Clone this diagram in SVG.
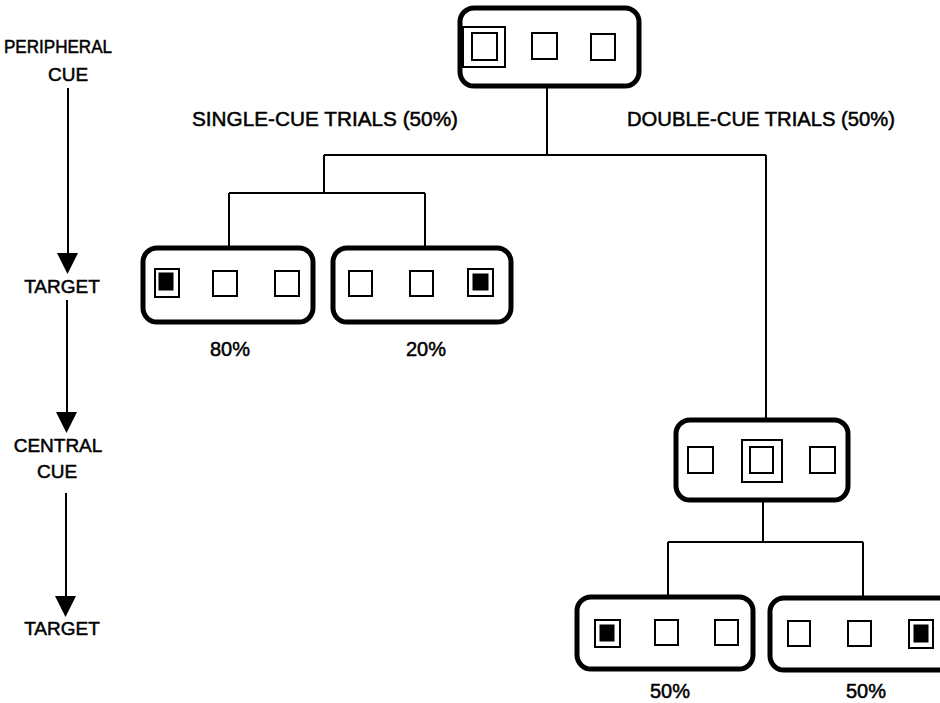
<svg xmlns="http://www.w3.org/2000/svg" width="940" height="703" viewBox="0 0 940 703">
<defs>
<style>
.box{fill:none;stroke:#000;stroke-width:5}
.sq{fill:#fff;stroke:#000;stroke-width:2}
.fill{fill:#000;stroke:#000;stroke-width:1}
.ln{fill:none;stroke:#000;stroke-width:2}
.t{font-family:"Liberation Sans",Arial,sans-serif;font-size:19px;fill:#000;stroke:#000;stroke-width:0.5}
.l{font-family:"Liberation Sans",Arial,sans-serif;font-size:20px;fill:#000;stroke:#000;stroke-width:0.5}
</style>
</defs>
<rect width="940" height="703" fill="#fff"/>

<g id="timeline">
<text class="t" x="58" y="53" text-anchor="middle" textLength="108" lengthAdjust="spacingAndGlyphs">PERIPHERAL</text>
<text class="t" x="68" y="81" text-anchor="middle">CUE</text>
<text class="t" x="62" y="293" text-anchor="middle">TARGET</text>
<text class="t" x="58" y="452" text-anchor="middle">CENTRAL</text>
<text class="t" x="57" y="478" text-anchor="middle">CUE</text>
<text class="t" x="62" y="635" text-anchor="middle">TARGET</text>
<line class="ln" x1="68" y1="88" x2="68" y2="256"/>
<polygon points="57,253 78,253 67.5,274" fill="#000"/>
<line class="ln" x1="67" y1="300" x2="67" y2="415"/>
<polygon points="56,412 77,412 66.5,433" fill="#000"/>
<line class="ln" x1="66" y1="493" x2="66" y2="598"/>
<polygon points="55,596 76,596 65.5,617" fill="#000"/>
</g>

<g id="labels">
<text class="l" x="192" y="126" textLength="266" lengthAdjust="spacingAndGlyphs">SINGLE-CUE TRIALS (50%)</text>
<text class="l" x="627" y="126" textLength="268" lengthAdjust="spacingAndGlyphs">DOUBLE-CUE TRIALS (50%)</text>
<text class="l" x="230" y="356" text-anchor="middle">80%</text>
<text class="l" x="426" y="356" text-anchor="middle">20%</text>
<text class="l" x="670" y="698" text-anchor="middle">50%</text>
<text class="l" x="866" y="698" text-anchor="middle">50%</text>
</g>

<g id="connectors">
<polyline class="ln" points="547,85 547,155"/>
<polyline class="ln" points="324,155 766,155"/>
<polyline class="ln" points="324,155 324,193"/>
<polyline class="ln" points="229,193 425,193"/>
<polyline class="ln" points="229,193 229,248"/>
<polyline class="ln" points="425,193 425,248"/>
<polyline class="ln" points="766,155 766,420"/>
<polyline class="ln" points="763,500 763,542"/>
<polyline class="ln" points="668,542 863,542"/>
<polyline class="ln" points="668,542 668,597"/>
<polyline class="ln" points="863,542 863,598"/>
</g>

<g id="cue-box">
<rect class="box" x="460" y="8" width="179" height="78" rx="14"/>
<rect class="sq" x="463" y="27" width="42" height="40"/>
<rect class="sq" x="472" y="33" width="25" height="27"/>
<rect class="sq" x="532" y="33" width="25" height="26"/>
<rect class="sq" x="591" y="34" width="24" height="26"/>
</g>

<g id="single-left">
<rect class="box" x="143" y="248" width="170" height="74" rx="14"/>
<rect class="sq" x="155" y="269" width="24" height="28"/>
<rect class="fill" x="159" y="273" width="14" height="17"/>
<rect class="sq" x="213" y="271" width="24" height="25"/>
<rect class="sq" x="275" y="271" width="24" height="25"/>
</g>

<g id="single-right">
<rect class="box" x="333" y="248" width="178" height="74" rx="14"/>
<rect class="sq" x="349" y="271" width="23" height="25"/>
<rect class="sq" x="410" y="271" width="23" height="25"/>
<rect class="sq" x="468" y="269" width="25" height="27"/>
<rect class="fill" x="473" y="274" width="15" height="16"/>
</g>

<g id="central-box">
<rect class="box" x="676" y="420" width="172" height="80" rx="14"/>
<rect class="sq" x="688" y="447" width="25" height="26"/>
<rect class="sq" x="742" y="440" width="40" height="42"/>
<rect class="sq" x="750" y="447" width="23" height="26"/>
<rect class="sq" x="810" y="447" width="25" height="26"/>
</g>

<g id="double-left">
<rect class="box" x="577" y="597" width="176" height="72" rx="14"/>
<rect class="sq" x="595" y="620" width="25" height="27"/>
<rect class="fill" x="600" y="625" width="14" height="16"/>
<rect class="sq" x="655" y="620" width="23" height="25"/>
<rect class="sq" x="715" y="620" width="23" height="25"/>
</g>

<g id="double-right">
<rect class="box" x="770" y="598" width="190" height="72" rx="14"/>
<rect class="sq" x="788" y="621" width="22" height="25"/>
<rect class="sq" x="848" y="621" width="23" height="25"/>
<rect class="sq" x="909" y="620" width="24" height="28"/>
<rect class="fill" x="914" y="625" width="14" height="17"/>
</g>
</svg>
